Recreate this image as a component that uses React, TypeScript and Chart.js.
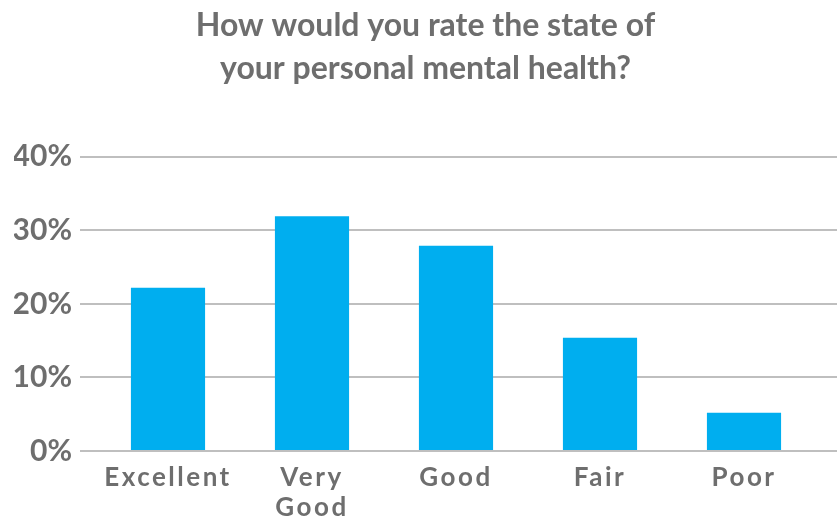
import React, { useEffect, useRef } from "react";
import { Chart, registerables } from "chart.js";

Chart.register(...registerables);

const categories: (string | string[])[] = ["Excellent", ["Very", "Good"], "Good", "Fair", "Poor"];
const values: number[] = [22.2, 31.9, 27.9, 15.4, 5.2];
const yTicks: number[] = [0, 10, 20, 30, 40];
const titleLines: string[] = ["How would you rate the state of", "your personal mental health?"];

const GRAY = "#6e6e6e";
const GRID = "#bfbfbf";
const BLUE = "#00aeef";

export default function App() {
  const ref = useRef<HTMLCanvasElement | null>(null);

  useEffect(() => {
    if (!ref.current) return;
    const chart = new Chart(ref.current, {
      type: "bar",
      data: {
        labels: categories as any,
        datasets: [
          {
            data: values,
            backgroundColor: BLUE,
            borderWidth: 0,
            barPercentage: 0.515,
            categoryPercentage: 1,
          },
        ],
      },
      options: {
        animation: false,
        responsive: false,
        maintainAspectRatio: false,
        layout: { padding: { left: 14, right: 0, top: 0, bottom: 0 } },
        plugins: {
          legend: { display: false },
          tooltip: { enabled: false },
          title: {
            display: true,
            text: titleLines,
            color: GRAY,
            font: { family: "Lato", size: 32, weight: "bold", lineHeight: 1.34 },
            padding: { top: 4, bottom: 67 },
          },
        },
        scales: {
          x: {
            grid: { display: false, drawTicks: false },
            border: { display: false },
            ticks: {
              color: GRAY,
              font: { family: "Lato", size: 26, weight: "bold", lineHeight: 1.15 },
              padding: 12,
              maxRotation: 0,
              autoSkip: false,
            },
            afterFit: (scale: any) => {
              scale.height = 68;
              if (!scale._lsPatched) {
                const orig = scale.drawLabels;
                scale.drawLabels = function (area: any) {
                  const c = this.ctx;
                  c.save();
                  c.letterSpacing = "2.5px";
                  orig.call(this, area);
                  c.restore();
                };
                scale._lsPatched = true;
              }
            },
          },
          y: {
            min: 0,
            max: 40,
            afterBuildTicks: (scale: any) => {
              scale.ticks = yTicks.map((v) => ({ value: v }));
            },
            grid: { color: GRID, lineWidth: 2, drawTicks: true, tickLength: 16, tickColor: GRID },
            border: { display: false },
            ticks: {
              color: GRAY,
              padding: 8,
              font: { family: "Lato", size: 30, weight: "bold" },
              callback: (v: any) => v + "%",
            },
            afterFit: (scale: any) => {
              scale.width = 82;
            },
          },
          y2: {
            position: "right",
            min: 0,
            max: 40,
            afterBuildTicks: (scale: any) => {
              scale.ticks = yTicks.map((v) => ({ value: v }));
            },
            grid: { color: GRID, lineWidth: 2, drawOnChartArea: false, drawTicks: true, tickLength: 21, tickColor: GRID },
            border: { display: false },
            ticks: { display: false },
            afterFit: (scale: any) => {
              scale.width = 21;
            },
          },
        },
      } as any,
    });
    return () => chart.destroy();
  }, []);

  return (
    <div style={{ position: "fixed", left: 0, top: 0, width: 837, height: 519, background: "#fff" }}>
      <canvas ref={ref} width={837} height={519} style={{ width: 837, height: 519, display: "block" }} />
    </div>
  );
}
